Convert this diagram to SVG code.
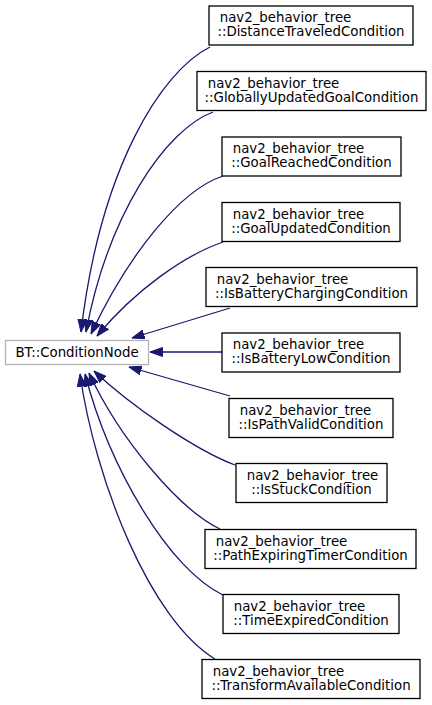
<svg xmlns="http://www.w3.org/2000/svg" width="432" height="705" viewBox="0 0 432 705">
<style>
.n rect{fill:#fff;stroke:#000;stroke-width:1.3}
.n text{font-family:"DejaVu Sans",sans-serif;font-size:13.33px;fill:#000}
.e path{fill:none;stroke:#191970;stroke-width:1.3}
</style>
<defs>
<marker id="a" markerUnits="userSpaceOnUse" markerWidth="13" markerHeight="10" viewBox="0 0 13 10" refX="12.5" refY="5" orient="auto">
<path d="M0,0.5 L12.5,5 L0,9.5 z" fill="#191970" stroke="#191970" stroke-width="1"/>
</marker>
</defs>
<rect width="432" height="705" fill="#fff"/>
<g class="e" id="edges">
<path marker-end="url(#a)" d="M210,47 C160,72 100,170 81,332"/>
<path marker-end="url(#a)" d="M213,112 C165,130 108,215 86,332"/>
<path marker-end="url(#a)" d="M223,176 C180,190 128,255 91,334"/>
<path marker-end="url(#a)" d="M223,242 C185,255 135,290 97,336"/>
<path marker-end="url(#a)" d="M230,308 L132,338"/>
<path marker-end="url(#a)" d="M222,352 L150,352"/>
<path marker-end="url(#a)" d="M230,396 L129,367"/>
<path marker-end="url(#a)" d="M235,465 C195,450 130,405 94,371"/>
<path marker-end="url(#a)" d="M220,529 C180,510 120,440 89,373"/>
<path marker-end="url(#a)" d="M223,595 C170,570 110,470 85,374"/>
<path marker-end="url(#a)" d="M215,659 C150,620 95,480 80,374"/>
</g>
<g class="n" id="node_ConditionNode">
<rect x="5.5" y="340.5" width="143" height="24" style="stroke:#b3b3b3"/>
<text x="77" y="357" text-anchor="middle">BT::ConditionNode</text>
</g>
<g class="n" id="node_DistanceTraveledCondition">
<rect x="209" y="6" width="204" height="39"/>
<text x="219.7" y="22">nav2_behavior_tree</text>
<text x="311" y="36" text-anchor="middle">::DistanceTraveledCondition</text>
</g>
<g class="n" id="node_GloballyUpdatedGoalCondition">
<rect x="197" y="71.5" width="229" height="39"/>
<text x="207.7" y="87.5">nav2_behavior_tree</text>
<text x="311.5" y="101.5" text-anchor="middle">::GloballyUpdatedGoalCondition</text>
</g>
<g class="n" id="node_GoalReachedCondition">
<rect x="222" y="137" width="179" height="39"/>
<text x="232.7" y="153">nav2_behavior_tree</text>
<text x="311.5" y="167" text-anchor="middle">::GoalReachedCondition</text>
</g>
<g class="n" id="node_GoalUpdatedCondition">
<rect x="222" y="202.5" width="178" height="39"/>
<text x="232.7" y="218.5">nav2_behavior_tree</text>
<text x="311" y="232.5" text-anchor="middle">::GoalUpdatedCondition</text>
</g>
<g class="n" id="node_IsBatteryChargingCondition">
<rect x="206" y="267.5" width="211" height="39"/>
<text x="216.7" y="283.5">nav2_behavior_tree</text>
<text x="311.5" y="297.5" text-anchor="middle">::IsBatteryChargingCondition</text>
</g>
<g class="n" id="node_IsBatteryLowCondition">
<rect x="222" y="333" width="178" height="39"/>
<text x="232.7" y="349">nav2_behavior_tree</text>
<text x="311" y="363" text-anchor="middle">::IsBatteryLowCondition</text>
</g>
<g class="n" id="node_IsPathValidCondition">
<rect x="229" y="398.5" width="164" height="39"/>
<text x="239.7" y="414.5">nav2_behavior_tree</text>
<text x="311" y="428.5" text-anchor="middle">::IsPathValidCondition</text>
</g>
<g class="n" id="node_IsStuckCondition">
<rect x="236" y="463.5" width="151" height="39"/>
<text x="246.7" y="479.5">nav2_behavior_tree</text>
<text x="311.5" y="493.5" text-anchor="middle">::IsStuckCondition</text>
</g>
<g class="n" id="node_PathExpiringTimerCondition">
<rect x="205" y="529.5" width="211" height="39"/>
<text x="215.7" y="545.5">nav2_behavior_tree</text>
<text x="310.5" y="559.5" text-anchor="middle">::PathExpiringTimerCondition</text>
</g>
<g class="n" id="node_TimeExpiredCondition">
<rect x="223" y="594.5" width="176" height="39"/>
<text x="233.7" y="610.5">nav2_behavior_tree</text>
<text x="311" y="624.5" text-anchor="middle">::TimeExpiredCondition</text>
</g>
<g class="n" id="node_TransformAvailableCondition">
<rect x="202" y="659.5" width="218" height="39"/>
<text x="212.7" y="675.5">nav2_behavior_tree</text>
<text x="311" y="689.5" text-anchor="middle">::TransformAvailableCondition</text>
</g>
</svg>
